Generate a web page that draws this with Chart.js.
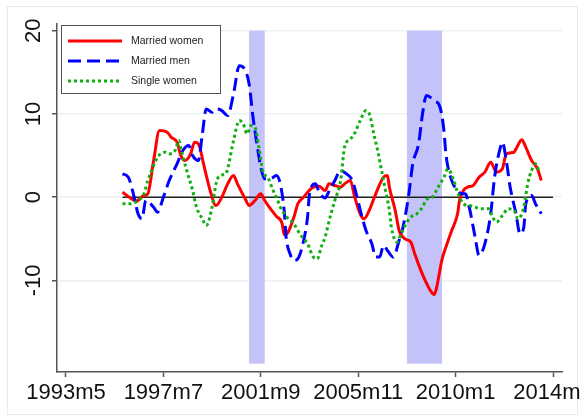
<!DOCTYPE html>
<html>
<head>
<meta charset="utf-8">
<script src="https://cdn.jsdelivr.net/npm/chart.js@4.4.1/dist/chart.umd.min.js"></script>
<style>
  body { margin: 0; background: #fff; }
  canvas { display: block; }
</style>
</head>
<body>
<canvas id="myChart" width="580" height="420"></canvas>
<script>
// months are Stata style monthly index (1993m5 = 400)
const tickMonths = [400, 450, 500, 550, 600, 650];
const tickLabels = ['1993m5', '1997m7', '2001m9', '2005m11', '2010m1', '2014m3'];
const yTicks = [-10, 0, 10, 20];

// recessions: 2001m3-2001m11, 2007m12-2009m6
const recessionStart = [494, 575];
const recessionEnd = [502, 593];
const shadeRange = [-20, 20];

const zeroMonths = [429, 650];
const zeroValues = [0, 0];

const womenMonths = [429,433,436,440,442,445,448,452,454,457,459,461,464,466,468,471,474,477,480,483,
  486,488,492,494,497,500,502,505,508,511,512,514,517,519,522,524,527,530,533,535,
  538,541,543,546,548,551,553,556,559,563,565,566,569,571,574,577,579,582,584,587,
  589,590,593,595,598,601,602,604,606,609,612,615,618,621,624,626,630,631,634,636,639,642,644];
const womenValues = [0.6,-0.1,-0.5,0.2,0.4,4.4,8.0,7.8,7.2,6.6,5.0,4.4,5.2,6.6,6.4,3.6,0.8,-1.0,0.0,1.6,
  2.6,1.6,-0.2,-1.0,-0.4,0.4,-0.4,-1.4,-2.3,-3.2,-4.5,-4.2,-2.4,-0.8,0.0,0.6,1.2,1.3,0.8,1.6,
  1.4,1.2,1.6,2.0,0.2,-2.0,-2.6,-1.4,0.4,2.4,2.6,1.2,-1.6,-4.0,-5.0,-5.4,-6.8,-8.7,-9.8,-11.2,
  -11.7,-11.1,-7.5,-6.0,-4.0,-2.0,-0.4,0.8,1.2,1.4,2.4,3.0,4.2,3.0,3.4,5.2,5.4,5.8,6.9,6.0,4.4,3.4,2.0];

const menMonths = [429,432,435,437,439,441,445,447,450,453,457,460,463,465,468,470,472,475,477,480,
  483,486,489,491,494,496,498,500,502,505,508,510,512,513,515,517,519,522,524,525,
  528,530,533,535,538,541,544,547,549,552,554,557,559,561,563,565,568,571,573,576,
  578,581,583,585,589,592,594,595,598,601,603,605,607,610,612,615,618,620,623,624,
  626,628,631,633,635,636,639,641,644];
const menValues = [2.8,2.4,0.0,-2.0,-2.6,-0.4,-1.2,-1.8,0.0,2.0,4.0,5.6,6.2,5.0,4.4,7.6,10.6,10.2,10.6,10.4,
  9.8,12.4,15.8,15.6,13.6,9.6,6.4,3.6,2.2,2.2,2.6,1.6,-1.6,-4.8,-6.8,-7.6,-7.4,-5.2,-2.4,0.4,
  1.6,0.6,-0.1,0.7,2.0,3.2,2.8,2.0,0.4,-2.4,-4.0,-5.6,-7.2,-7.2,-5.8,-6.4,-7.2,-5.2,-3.6,0.4,
  4.0,6.4,10.0,12.2,11.6,10.8,8.0,5.2,2.0,0.8,0.4,0.4,-1.2,-4.8,-7.0,-5.6,-2.0,2.4,6.0,6.6,
  4.4,1.2,-2.0,-4.4,-3.6,-0.8,0.2,-0.8,-2.0];

const singleMonths = [429,433,437,440,442,445,447,451,453,456,458,459,462,465,467,470,472,475,477,479,
  482,483,486,489,491,493,495,497,499,501,504,506,509,510,513,517,520,524,527,529,
  531,533,536,538,541,543,546,548,551,554,556,558,560,562,564,566,567,570,572,575,
  578,580,583,585,588,591,594,596,599,601,604,607,610,613,617,619,621,624,627,630,
  632,635,637,639,641,643];
const singleValues = [-0.8,-0.8,-0.4,0.4,2.0,3.8,4.8,5.4,5.2,5.6,6.8,5.8,3.2,0.8,-1.2,-2.6,-3.4,-1.2,1.6,2.6,
  2.8,3.4,6.8,9.2,8.8,7.6,8.6,8.4,6.0,3.2,2.2,1.0,-0.6,-1.2,-2.3,-3.2,-4.4,-5.6,-7.2,-7.4,
  -6.0,-4.8,-2.0,-0.4,2.0,6.0,7.0,7.6,9.2,10.4,9.8,7.6,5.6,3.2,0.8,-1.6,-3.6,-5.4,-4.4,-3.0,
  -2.2,-2.0,-1.2,-0.3,0.0,1.2,2.4,3.4,2.0,0.6,-0.8,-1.0,-1.2,-1.4,-1.4,-2.4,-3.0,-2.2,-1.4,-1.6,
  -2.6,-1.2,1.6,3.2,4.0,3.0];

function points(months, values) {
  return months.map((m, i) => ({ x: m, y: values[i] }));
}

Chart.defaults.font.family = '"Liberation Sans", Arial, sans-serif';

// white page with the faint stata frame, and recession bands
const background = {
  id: 'background',
  beforeDraw(chart) {
    const ctx = chart.ctx;
    ctx.save();
    ctx.fillStyle = '#fff';
    ctx.fillRect(0, 0, chart.width, chart.height);
    ctx.strokeStyle = '#e4ecef';
    ctx.lineWidth = 1;
    ctx.strokeRect(7.5, 6.5, 570, 408);
    ctx.restore();
  },
  beforeDatasetsDraw(chart) {
    const ctx = chart.ctx;
    const xs = chart.scales.x, ys = chart.scales.y;
    ctx.save();
    ctx.fillStyle = '#c3c3fa';
    recessionStart.forEach((s, i) => {
      const left = xs.getPixelForValue(s);
      const right = xs.getPixelForValue(recessionEnd[i]);
      const top = ys.getPixelForValue(shadeRange[1]);
      const bottom = ys.getPixelForValue(shadeRange[0]);
      ctx.fillRect(left, top, right - left, bottom - top);
    });
    ctx.restore();
  }
};

// boxed legend in the top left corner
const legendBox = {
  id: 'legendBox',
  afterDraw(chart) {
    const ctx = chart.ctx;
    ctx.save();
    ctx.fillStyle = '#fff';
    ctx.fillRect(61.5, 25.5, 159, 68);
    ctx.strokeStyle = '#555';
    ctx.lineWidth = 1;
    ctx.strokeRect(61.5, 25.5, 159, 68);
    ctx.font = '10.5px "Liberation Sans", Arial, sans-serif';
    ctx.textBaseline = 'middle';
    chart.data.datasets.slice(0, 3).forEach((ds, i) => {
      const y = 41 + i * 20;
      ctx.beginPath();
      ctx.setLineDash(ds.borderDash || []);
      ctx.strokeStyle = ds.borderColor;
      ctx.lineWidth = ds.borderWidth;
      ctx.moveTo(68, y);
      ctx.lineTo(122, y);
      ctx.stroke();
      ctx.fillStyle = '#222';
      ctx.fillText(ds.label, 131, y);
    });
    ctx.restore();
  }
};

const config = {
  type: 'line',
  data: {
    datasets: [{
      label: 'Married women',
      data: points(womenMonths, womenValues),
      borderColor: '#ff0000',
      borderWidth: 3,
      order: 3
    }, {
      label: 'Married men',
      data: points(menMonths, menValues),
      borderColor: '#0000ff',
      borderWidth: 3,
      borderDash: [13, 6],
      order: 2
    }, {
      label: 'Single women',
      data: points(singleMonths, singleValues),
      borderColor: '#10b010',
      borderWidth: 3,
      borderDash: [3, 3],
      order: 1
    }, {
      label: 'zero',
      data: points(zeroMonths, zeroValues),
      borderColor: '#222',
      borderWidth: 1.5,
      order: 4
    }]
  },
  options: {
    responsive: false,
    animation: false,
    layout: { padding: { top: 24, right: 18, left: 0, bottom: 0 } },
    elements: {
      point: { radius: 0 },
      line: { cubicInterpolationMode: 'monotone' }
    },
    plugins: {
      legend: { display: false },
      tooltip: { enabled: false }
    },
    scales: {
      x: {
        type: 'linear',
        min: 395.4,
        max: 654.6,
        afterBuildTicks: s => { s.ticks = tickMonths.map(v => ({ value: v })); },
        afterFit: s => { s.height = 48; s.paddingLeft = 0; s.paddingRight = 0; },
        ticks: {
          autoSkip: false,
          maxRotation: 0,
          padding: 3,
          color: '#111',
          font: { size: 22 },
          callback: v => tickLabels[tickMonths.indexOf(v)]
        },
        grid: { drawOnChartArea: false, tickLength: 5, tickColor: '#555', tickWidth: 1.5 },
        border: { color: '#555', width: 1.5 }
      },
      y: {
        min: -21,
        max: 20.8,
        afterBuildTicks: s => { s.ticks = yTicks.map(v => ({ value: v })); },
        afterFit: s => { s.width = 57; s.paddingTop = 0; s.paddingBottom = 0; },
        ticks: {
          minRotation: 90,
          maxRotation: 90,
          crossAlign: 'center',
          padding: 2,
          color: '#111',
          font: { size: 22 }
        },
        grid: { color: '#eaf2f3', lineWidth: 1.5, tickLength: 5, tickColor: '#555', tickWidth: 1.5 },
        border: { color: '#555', width: 1.5 }
      }
    }
  },
  plugins: [background, legendBox]
};

const myChart = new Chart(document.getElementById('myChart'), config);
</script>
</body>
</html>
